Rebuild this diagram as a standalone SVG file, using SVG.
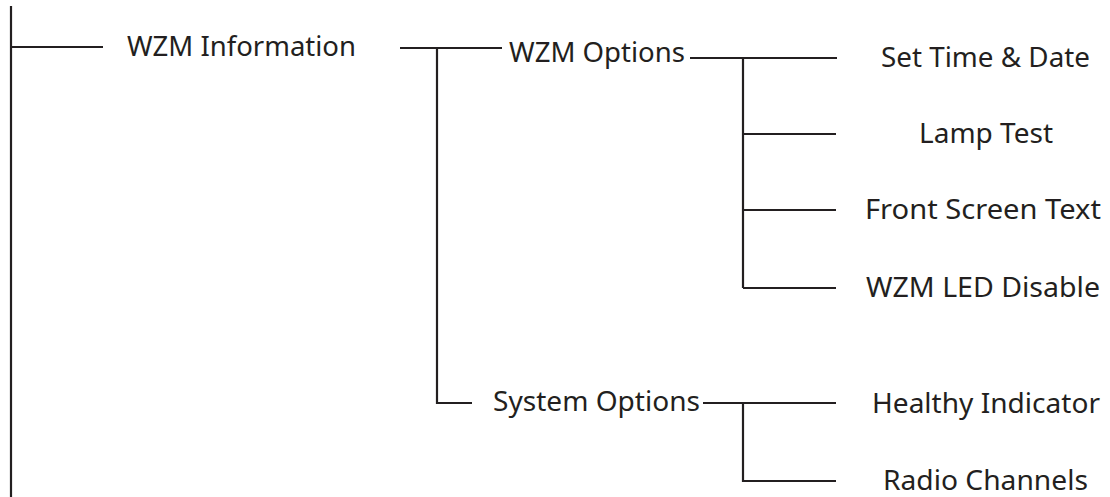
<svg xmlns="http://www.w3.org/2000/svg" width="1110" height="497" viewBox="0 0 1110 497">
<style>
.c{stroke:#231f20;stroke-width:2.2;fill:none}
text{font-family:"Noto Sans","Liberation Sans",sans-serif;font-size:28px;fill:#231f20}
</style>
<rect width="1110" height="497" fill="#fff"/>
<g id="connectors">
<path class="c" d="M11 6V497M11 47H103"/>
<path class="c" d="M400 48H502M437 48V403H472"/>
<path class="c" d="M690 58H837M743 58V288M743 134H836M743 210H836M743 288H836"/>
<path class="c" d="M703 403H836M743 403V481H836"/>
</g>
<g id="n-wzm-info"><text x="127" y="56" textLength="229" lengthAdjust="spacingAndGlyphs">WZM Information</text></g>
<g id="n-wzm-options"><text x="509" y="62" textLength="176" lengthAdjust="spacingAndGlyphs">WZM Options</text></g>
<g id="n-system-options"><text x="493" y="411" textLength="207" lengthAdjust="spacingAndGlyphs">System Options</text></g>
<g id="n-set-time"><text x="881" y="67" textLength="209" lengthAdjust="spacingAndGlyphs">Set Time &amp; Date</text></g>
<g id="n-lamp-test"><text x="919" y="143" textLength="134" lengthAdjust="spacingAndGlyphs">Lamp Test</text></g>
<g id="n-front-screen"><text x="865" y="219" textLength="236" lengthAdjust="spacingAndGlyphs">Front Screen Text</text></g>
<g id="n-led-disable"><text x="866" y="297" textLength="234" lengthAdjust="spacingAndGlyphs">WZM LED Disable</text></g>
<g id="n-healthy"><text x="872" y="413" textLength="228" lengthAdjust="spacingAndGlyphs">Healthy Indicator</text></g>
<g id="n-radio"><text x="883" y="490" textLength="205" lengthAdjust="spacingAndGlyphs">Radio Channels</text></g>
</svg>
